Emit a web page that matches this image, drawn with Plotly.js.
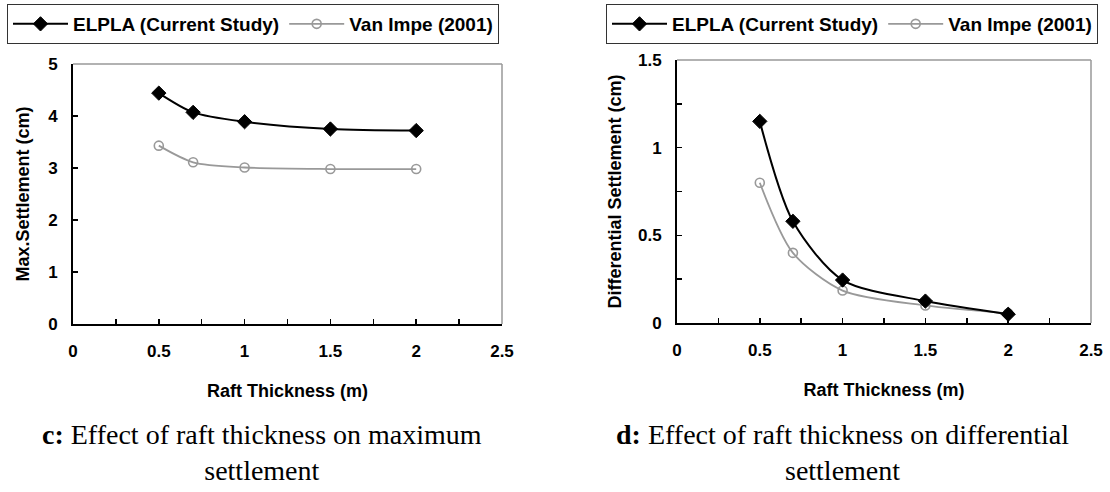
<!DOCTYPE html>
<html>
<head>
<meta charset="utf-8">
<script src="https://cdn.plot.ly/plotly-3.0.1.min.js"></script>
<style>
  html, body { margin: 0; padding: 0; background: #fff; }
  #chart { width: 1110px; height: 492px; }
</style>
</head>
<body>
<div id="chart"></div>
<script>
// ---- data ----
const thickness = [0.5, 0.7, 1.0, 1.5, 2.0];
const maxElpla = [4.44, 4.07, 3.89, 3.75, 3.72];
const maxVanImpe = [3.43, 3.11, 3.01, 2.98, 2.98];
const diffElpla = [1.15, 0.58, 0.245, 0.125, 0.05];
const diffVanImpe = [0.80, 0.40, 0.185, 0.10, 0.055];

const seriesNames = ['ELPLA (Current Study)', 'Van Impe (2001)'];
const xTitle = 'Raft Thickness (m)';
const yTitleLeft = 'Max.Settlement (cm)';
const yTitleRight = 'Differential Settlement (cm)';
const captionLeft = '<b>c:</b> Effect of raft thickness on maximum<br>settlement';
const captionRight = '<b>d:</b> Effect of raft thickness on differential<br>settlement';

const W = 1110, H = 492;
const sans = '"Liberation Sans", Arial, sans-serif';
const serif = '"Liberation Serif", "Times New Roman", serif';
const gray = '#999999';

function elplaTrace(y, xa, ya, lg) {
  return {
    x: thickness, y: y, xaxis: xa, yaxis: ya, legend: lg,
    name: seriesNames[0], type: 'scatter', mode: 'lines+markers',
    line: {color: '#000', width: 2, shape: 'spline', smoothing: 0.8},
    marker: {symbol: 'diamond', size: 11, color: '#000', line: {color: '#000', width: 1}}
  };
}
function vanTrace(y, xa, ya, lg) {
  return {
    x: thickness, y: y, xaxis: xa, yaxis: ya, legend: lg,
    name: seriesNames[1], type: 'scatter', mode: 'lines+markers',
    line: {color: gray, width: 1.8, shape: 'spline', smoothing: 0.8},
    marker: {symbol: 'circle-open', size: 9, color: gray, line: {color: gray, width: 1.6}}
  };
}

const data = [
  vanTrace(maxVanImpe, 'x', 'y', 'legend'),
  elplaTrace(maxElpla, 'x', 'y', 'legend'),
  vanTrace(diffVanImpe, 'x2', 'y2', 'legend2'),
  elplaTrace(diffElpla, 'x2', 'y2', 'legend2')
];

// pixel geometry -> paper fractions
const L = {x0: 73, x1: 502, y0: 64, y1: 324};
const R = {x0: 677, x1: 1091, y0: 60, y1: 323};
const fx = p => p / W;
const fy = p => 1 - p / H;

const tickFont = {family: sans, size: 17, color: '#000', weight: 'bold'};
const titleFont = {family: sans, size: 18, color: '#000', weight: 'bold'};
const legendFont = {family: sans, size: 19, color: '#000', weight: 'bold'};

function xAxis(dom, anchor) {
  return {
    domain: [fx(dom.x0), fx(dom.x1)], anchor: anchor,
    range: [0, 2.5], tick0: 0, dtick: 0.5, ticks: 'inside', ticklen: 5, tickwidth: 1.5,
    tickcolor: '#000', showgrid: false, zeroline: false,
    showline: true, linecolor: '#000', linewidth: 2,
    tickfont: tickFont, ticklabelstandoff: 11,
    minor: {dtick: 0.25, ticks: 'inside', ticklen: 5, tickwidth: 1.5, tickcolor: '#000', showgrid: false},
    title: {text: xTitle, font: titleFont, standoff: 24},
    fixedrange: true
  };
}
function yAxis(dom, anchor, range, dtick, minor) {
  const ax = {
    domain: [fy(dom.y1), fy(dom.y0)], anchor: anchor,
    range: range, tick0: 0, dtick: dtick, ticks: 'inside', ticklen: 5, tickwidth: 1.5,
    tickcolor: '#000', showgrid: false, zeroline: false,
    showline: true, linecolor: '#000', linewidth: 2,
    tickfont: tickFont, ticklabelstandoff: 10,
    fixedrange: true
  };
  if (minor) ax.minor = {dtick: minor, ticks: 'inside', ticklen: 5, tickwidth: 1.5, tickcolor: '#000', showgrid: false};
  return ax;
}

function legendBox(px) {
  return {
    x: fx(px), y: fy(4), xanchor: 'left', yanchor: 'top', orientation: 'h',
    bgcolor: '#fff', bordercolor: '#333', borderwidth: 1,
    font: legendFont, traceorder: 'reversed', itemwidth: 55, tracegroupgap: 0
  };
}

const layout = {
  width: W, height: H,
  margin: {l: 0, r: 0, t: 0, b: 0},
  paper_bgcolor: '#fff', plot_bgcolor: '#fff',
  showlegend: true,
  xaxis: xAxis(L, 'y'),
  yaxis: Object.assign(yAxis(L, 'x', [0, 5], 1, null), {title: {text: yTitleLeft, font: titleFont, standoff: 14}}),
  xaxis2: xAxis(R, 'y2'),
  yaxis2: Object.assign(yAxis(R, 'x2', [0, 1.5], 0.5, 0.25), {title: {text: yTitleRight, font: titleFont, standoff: 12}}),
  legend: legendBox(7),
  legend2: legendBox(606),
  shapes: [
    {type: 'line', xref: 'x domain', yref: 'y domain', x0: 0, x1: 1, y0: 1, y1: 1, line: {color: gray, width: 1.5}, layer: 'below'},
    {type: 'line', xref: 'x domain', yref: 'y domain', x0: 1, x1: 1, y0: 0, y1: 1, line: {color: gray, width: 1.5}, layer: 'below'},
    {type: 'line', xref: 'x2 domain', yref: 'y2 domain', x0: 0, x1: 1, y0: 1, y1: 1, line: {color: gray, width: 1.5}, layer: 'below'},
    {type: 'line', xref: 'x2 domain', yref: 'y2 domain', x0: 1, x1: 1, y0: 0, y1: 1, line: {color: gray, width: 1.5}, layer: 'below'}
  ],
  annotations: [
    {text: captionLeft, xref: 'paper', yref: 'paper', x: fx(262), y: fy(452), xanchor: 'center', yanchor: 'middle',
     showarrow: false, align: 'center', font: {family: serif, size: 28, color: '#000'}},
    {text: captionRight, xref: 'paper', yref: 'paper', x: fx(842), y: fy(452), xanchor: 'center', yanchor: 'middle',
     showarrow: false, align: 'center', font: {family: serif, size: 28, color: '#000'}}
  ]
};

Plotly.newPlot('chart', data, layout, {displayModeBar: false, staticPlot: true});
</script>
</body>
</html>
